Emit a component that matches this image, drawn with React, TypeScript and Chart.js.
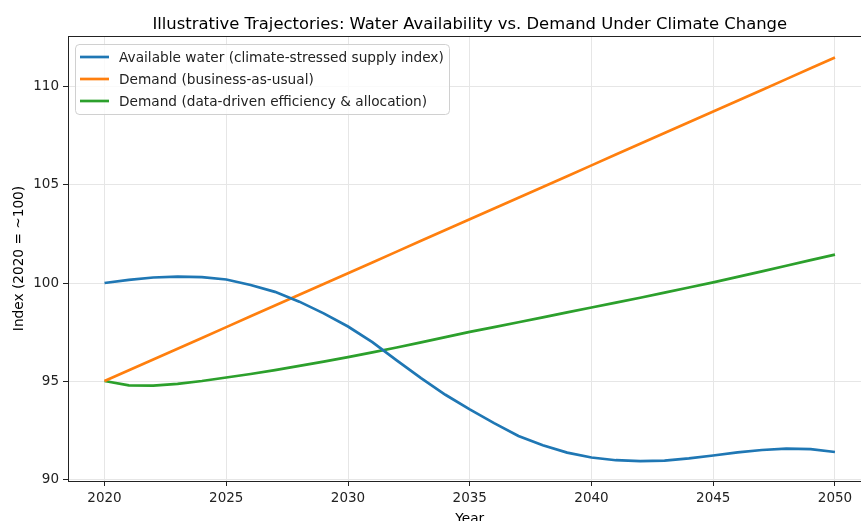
import React, { useEffect, useRef } from 'react';
import { Chart, registerables } from 'chart.js';

Chart.register(...registerables);

const years = [
  2020, 2021, 2022, 2023, 2024, 2025, 2026, 2027, 2028, 2029, 2030,
  2031, 2032, 2033, 2034, 2035, 2036, 2037, 2038, 2039, 2040,
  2041, 2042, 2043, 2044, 2045, 2046, 2047, 2048, 2049, 2050,
];

const availableWater = [
  100.0, 100.16, 100.28, 100.33, 100.3, 100.18, 99.9, 99.55, 99.05, 98.45, 97.78,
  96.98, 96.05, 95.15, 94.3, 93.55, 92.85, 92.2, 91.72, 91.35, 91.1,
  90.96, 90.91, 90.94, 91.05, 91.2, 91.36, 91.48, 91.55, 91.53, 91.38,
];

const demandBAU = [
  95.0, 95.55, 96.1, 96.65, 97.2, 97.75, 98.3, 98.85, 99.4, 99.95, 100.5,
  101.05, 101.6, 102.15, 102.7, 103.25, 103.8, 104.35, 104.9, 105.45, 106.0,
  106.55, 107.1, 107.65, 108.2, 108.75, 109.3, 109.85, 110.4, 110.95, 111.5,
];

const demandEfficient = [
  95.0, 94.78, 94.77, 94.85, 95.0, 95.18, 95.36, 95.56, 95.77, 95.99, 96.22,
  96.46, 96.71, 96.97, 97.24, 97.51, 97.75, 98.0, 98.25, 98.5, 98.75,
  99.0, 99.25, 99.51, 99.77, 100.03, 100.31, 100.59, 100.88, 101.17, 101.45,
];

const seriesLabels = [
  'Available water (climate-stressed supply index)',
  'Demand (business-as-usual)',
  'Demand (data-driven efficiency & allocation)',
];
const seriesColors = ['#1f77b4', '#ff7f0e', '#2ca02c'];

const xTicks = [2020, 2025, 2030, 2035, 2040, 2045, 2050];
const yTicks = [90, 95, 100, 105, 110];

const chartTitle = 'Illustrative Trajectories: Water Availability vs. Demand Under Climate Change';
const xTitle = 'Year';
const yTitle = 'Index (2020 = ~100)';

const FONT = "'DejaVu Sans', sans-serif";

const decorPlugin = {
  id: 'decor',
  afterDraw(chart: any) {
    const { ctx, chartArea } = chart;
    const { left, top, right, bottom } = chartArea;
    ctx.save();
    // frame
    ctx.strokeStyle = '#222';
    ctx.lineWidth = 1;
    ctx.strokeRect(Math.round(left) + 0.5, Math.round(top) + 0.5, Math.round(right - left), Math.round(bottom - top));
    // title
    ctx.fillStyle = '#000';
    ctx.font = `16.4px ${FONT}`;
    ctx.textAlign = 'center';
    ctx.textBaseline = 'middle';
    ctx.fillText(chartTitle, (left + right) / 2, 24.5);
    // legend
    const bx = 75, by = 44, bw = 374, bh = 70, r = 4;
    ctx.fillStyle = 'rgba(255,255,255,0.8)';
    ctx.strokeStyle = '#d0d0d0';
    ctx.beginPath();
    ctx.moveTo(bx + r, by + 0.5);
    ctx.lineTo(bx + bw - r, by + 0.5);
    ctx.arcTo(bx + bw + 0.5, by + 0.5, bx + bw + 0.5, by + r, r);
    ctx.lineTo(bx + bw + 0.5, by + bh - r);
    ctx.arcTo(bx + bw + 0.5, by + bh + 0.5, bx + bw - r, by + bh + 0.5, r);
    ctx.lineTo(bx + r, by + bh + 0.5);
    ctx.arcTo(bx + 0.5, by + bh + 0.5, bx + 0.5, by + bh - r, r);
    ctx.lineTo(bx + 0.5, by + r);
    ctx.arcTo(bx + 0.5, by + 0.5, bx + r, by + 0.5, r);
    ctx.closePath();
    ctx.fill();
    ctx.stroke();
    ctx.font = `13.7px ${FONT}`;
    ctx.textAlign = 'left';
    ctx.textBaseline = 'middle';
    chart.data.datasets.forEach((ds: any, i: number) => {
      const y = 57 + i * 22;
      ctx.strokeStyle = ds.borderColor;
      ctx.lineWidth = 2.7;
      ctx.beginPath();
      ctx.moveTo(80, y);
      ctx.lineTo(109, y);
      ctx.stroke();
      ctx.fillStyle = '#222';
      ctx.fillText(ds.label, 119, y + 1);
    });
    ctx.restore();
  },
};

export default function App() {
  const ref = useRef<HTMLCanvasElement | null>(null);
  useEffect(() => {
    if (!ref.current) return;
    const seriesValues = [availableWater, demandBAU, demandEfficient];
    const chart = new Chart(ref.current, {
      type: 'line',
      data: {
        datasets: seriesValues.map((vals, i) => ({
          label: seriesLabels[i],
          data: years.map((yr, j) => ({ x: yr, y: vals[j] })),
          borderColor: seriesColors[i],
          backgroundColor: seriesColors[i],
          borderWidth: 2.7,
          pointRadius: 0,
          tension: 0,
          fill: false,
        })),
      },
      options: {
        responsive: false,
        animation: false,
        layout: { padding: { top: 36, right: 8.5, left: 0, bottom: 0 } },
        plugins: {
          legend: { display: false },
          title: { display: false },
          tooltip: { enabled: false },
        },
        scales: {
          x: {
            type: 'linear',
            min: 2018.5,
            max: 2051.5,
            afterFit: (s: any) => { s.height = 49; },
            afterBuildTicks: (s: any) => { s.ticks = xTicks.map((v) => ({ value: v })); },
            grid: { color: '#e6e6e6', lineWidth: 1, tickColor: '#222', tickLength: 5 },
            border: { display: false },
            ticks: {
              color: '#222',
              font: { family: FONT, size: 13.5 },
              padding: 4,
              maxRotation: 0,
              callback: (v: any) => String(v),
            },
            title: {
              display: true,
              text: xTitle,
              color: '#000',
              font: { family: FONT, size: 13.7 },
              padding: { top: 0, bottom: 2 },
            },
          },
          y: {
            type: 'linear',
            min: 89.9,
            max: 112.6,
            afterFit: (s: any) => { s.width = 68; },
            afterBuildTicks: (s: any) => { s.ticks = yTicks.map((v) => ({ value: v })); },
            grid: { color: '#e6e6e6', lineWidth: 1, tickColor: '#222', tickLength: 5 },
            border: { display: false },
            ticks: {
              color: '#222',
              font: { family: FONT, size: 13.5 },
              padding: 4,
              callback: (v: any) => String(v),
            },
            title: {
              display: true,
              text: yTitle,
              color: '#000',
              font: { family: FONT, size: 13.7 },
              padding: { top: 11, bottom: 0 },
            },
          },
        },
      },
      plugins: [decorPlugin],
    });
    return () => chart.destroy();
  }, []);

  return (
    <div style={{ position: 'fixed', left: 0, top: 0, width: 861, height: 521, overflow: 'hidden', background: '#fff' }}>
      <canvas ref={ref} width={880} height={530} style={{ display: 'block', width: 880, height: 530 }} />
    </div>
  );
}
